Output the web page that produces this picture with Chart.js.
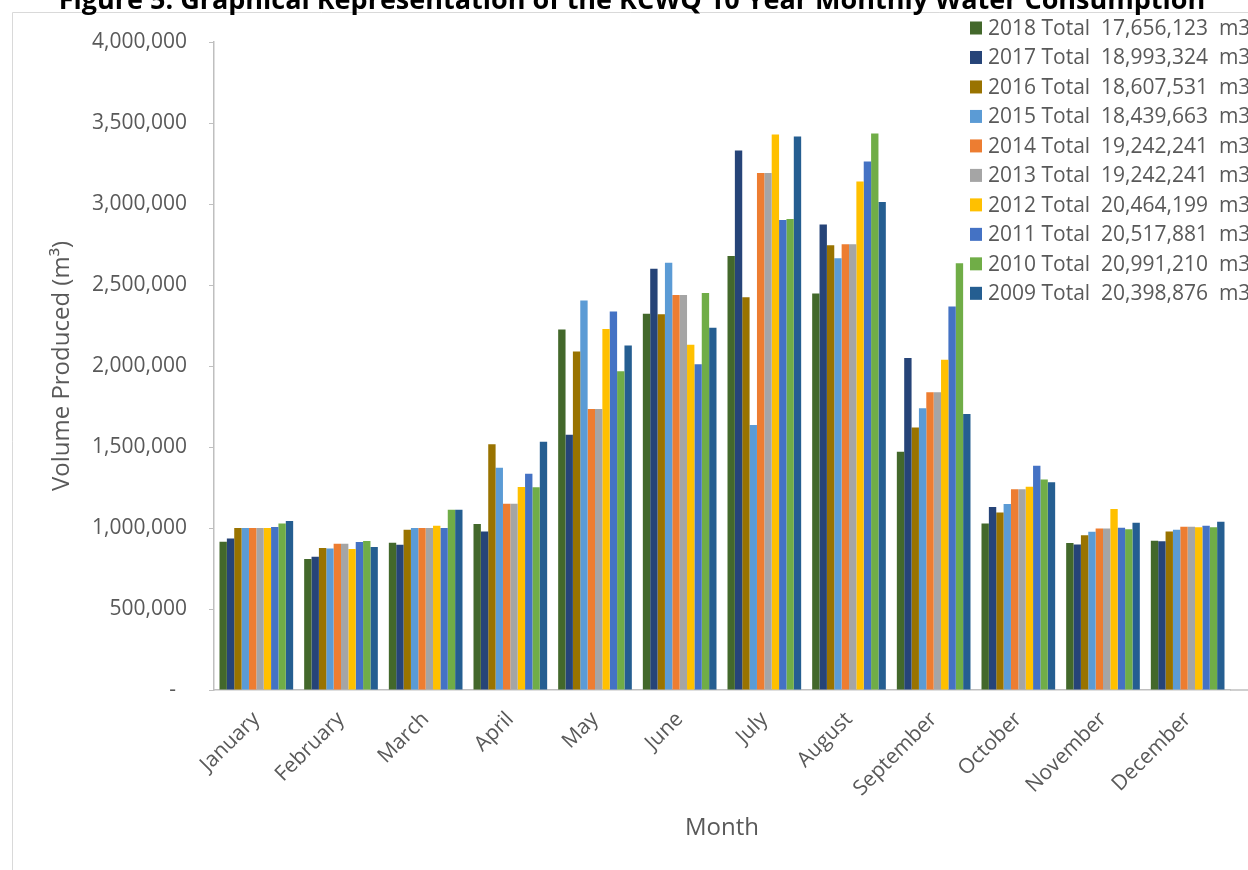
<!DOCTYPE html>
<html>
<head>
<meta charset="utf-8">
<title>KCWQ Monthly Water Consumption</title>
<script src="https://cdn.jsdelivr.net/npm/chart.js@4.4.1/dist/chart.umd.min.js"></script>
<style>
  html, body { margin: 0; padding: 0; background: #ffffff; }
  #wrap { width: 1248px; height: 870px; overflow: hidden; }
</style>
</head>
<body>
<div id="wrap"><canvas id="c" width="1248" height="870"></canvas></div>
<script>
// Months along the category axis
const months = ['January', 'February', 'March', 'April', 'May', 'June',
  'July', 'August', 'September', 'October', 'November', 'December'];

// Years in legend order, with their annual totals (m3)
const years = ['2018', '2017', '2016', '2015', '2014', '2013', '2012', '2011', '2010', '2009'];
const yearTotals = ['17,656,123', '18,993,324', '18,607,531', '18,439,663', '19,242,241',
  '19,242,241', '20,464,199', '20,517,881', '20,991,210', '20,398,876'];

// Monthly volume produced (m3), January..December
const vol2018 = [915000, 808000, 909000, 1024000, 2226000, 2322000, 2679000, 2448000, 1471000, 1028000, 907000, 921000];
const vol2017 = [935000, 822000, 896000, 979000, 1575000, 2601000, 3330000, 2873000, 2050000, 1129000, 898000, 918000];
const vol2016 = [1000000, 876000, 989000, 1517000, 2090000, 2320000, 2425000, 2745000, 1620000, 1096000, 956000, 979000];
const vol2015 = [1000000, 874000, 1000000, 1372000, 2405000, 2638000, 1636000, 2665000, 1739000, 1148000, 977000, 989000];
const vol2014 = [1000000, 903000, 1000000, 1150000, 1735000, 2438000, 3192000, 2751000, 1838000, 1239000, 997000, 1008000];
const vol2013 = [1000000, 903000, 1000000, 1150000, 1735000, 2438000, 3192000, 2751000, 1838000, 1239000, 997000, 1008000];
const vol2012 = [1000000, 870000, 1014000, 1253000, 2228000, 2131000, 3429000, 3139000, 2038000, 1255000, 1117000, 1004000];
const vol2011 = [1006000, 913000, 1000000, 1335000, 2337000, 2011000, 2902000, 3262000, 2368000, 1385000, 1002000, 1014000];
const vol2010 = [1028000, 919000, 1113000, 1251000, 1968000, 2450000, 2908000, 3435000, 2634000, 1300000, 993000, 1004000];
const vol2009 = [1043000, 882000, 1113000, 1533000, 2127000, 2236000, 3417000, 3013000, 1704000, 1282000, 1032000, 1039000];

// Value axis ticks
const yTicks = [0, 500000, 1000000, 1500000, 2000000, 2500000, 3000000, 3500000, 4000000];

const seriesValues = [vol2018, vol2017, vol2016, vol2015, vol2014, vol2013, vol2012, vol2011, vol2010, vol2009];
const seriesColors = ['#43682B', '#264478', '#997300', '#5B9BD5', '#ED7D31',
  '#A5A5A5', '#FFC000', '#4472C4', '#70AD47', '#255E91'];

const FONT = '"Open Sans", "DejaVu Sans", sans-serif';
const TEXT = '#595959';
const AXIS = '#bfbfbf';

const datasets = years.map((y, i) => ({
  label: y + ' Total  ' + yearTotals[i] + '  m3',
  data: seriesValues[i],
  backgroundColor: seriesColors[i],
  borderWidth: 0,
  categoryPercentage: 0.87,
  barPercentage: 1.0
}));

// Frame, title, legend and the run of the category axis line to the edge
const decor = {
  id: 'decor',
  beforeDraw(chart) {
    const ctx = chart.ctx;
    ctx.save();
    ctx.fillStyle = '#ffffff';
    ctx.fillRect(0, 0, chart.width, chart.height);
    ctx.strokeStyle = '#d9d9d9';
    ctx.lineWidth = 1;
    ctx.beginPath();
    ctx.moveTo(12.5, chart.height);
    ctx.lineTo(12.5, 12.5);
    ctx.lineTo(chart.width, 12.5);
    ctx.stroke();
    ctx.restore();
  },
  afterDraw(chart) {
    const ctx = chart.ctx;
    const area = chart.chartArea;
    ctx.save();
    // category axis line continues to the right edge
    ctx.strokeStyle = AXIS;
    ctx.lineWidth = 1.5;
    ctx.beginPath();
    ctx.moveTo(area.right, area.bottom);
    ctx.lineTo(chart.width, area.bottom);
    ctx.stroke();

    // title
    ctx.fillStyle = '#000000';
    ctx.font = 'bold 27px ' + FONT;
    ctx.textAlign = 'center';
    ctx.textBaseline = 'alphabetic';
    ctx.fillText('Figure 5: Graphical Representation of the KCWQ 10 Year Monthly Water Consumption', 632, 9);

    // legend
    ctx.font = '21px ' + FONT;
    ctx.textAlign = 'left';
    ctx.textBaseline = 'middle';
    chart.data.datasets.forEach((ds, i) => {
      const cy = 28 + i * 29.48;
      ctx.fillStyle = ds.backgroundColor;
      ctx.fillRect(970, cy - 6.5, 12, 13);
      ctx.fillStyle = TEXT;
      ctx.fillText(ds.label, 988, cy + 1);
    });
    ctx.restore();
  }
};

new Chart(document.getElementById('c'), {
  type: 'bar',
  data: { labels: months, datasets },
  plugins: [decor],
  options: {
    responsive: false,
    animation: false,
    devicePixelRatio: 1,
    layout: { padding: { top: 42, right: 18, left: 0, bottom: 0 } },
    plugins: {
      legend: { display: false },
      title: { display: false },
      tooltip: { enabled: false }
    },
    scales: {
      x: {
        grid: { display: false, drawTicks: false },
        border: { display: true, color: AXIS, width: 1.5 },
        ticks: {
          color: TEXT,
          font: { family: FONT, size: 21 },
          minRotation: 45,
          maxRotation: 45,
          autoSkip: false,
          padding: 17
        },
        title: {
          display: true,
          text: 'Month',
          color: TEXT,
          font: { family: FONT, size: 24 },
          padding: { top: 0, bottom: 27 }
        },
        afterFit(scale) { scale.height = 180; }
      },
      y: {
        min: 0,
        max: 4000000,
        afterBuildTicks(scale) { scale.ticks = yTicks.map(v => ({ value: v })); },
        grid: { drawOnChartArea: false, drawTicks: true, tickLength: 5, color: AXIS },
        border: { display: true, color: AXIS, width: 1.5 },
        ticks: {
          color: TEXT,
          font: { family: FONT, size: 21 },
          padding: 22,
          callback: v => v === 0 ? '-  ' : v.toLocaleString('en-US')
        },
        title: {
          display: true,
          text: 'Volume Produced (m³)',
          color: TEXT,
          font: { family: FONT, size: 24 },
          padding: { top: 48, bottom: 0 }
        },
        afterFit(scale) { scale.width = 214; }
      }
    }
  }
});
</script>
</body>
</html>
